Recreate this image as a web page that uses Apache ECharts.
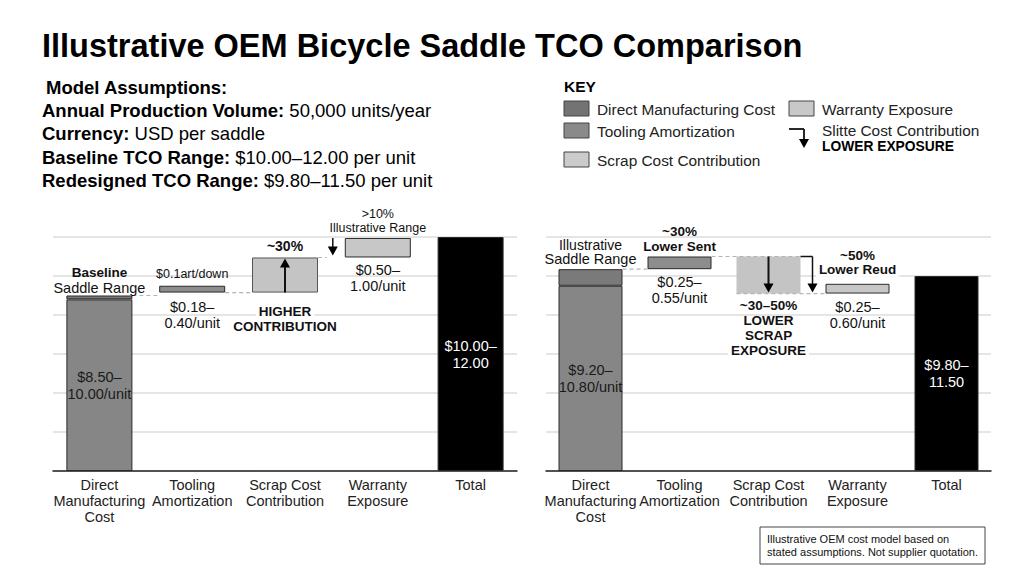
<!DOCTYPE html>
<html><head><meta charset="utf-8">
<script src="https://cdn.jsdelivr.net/npm/echarts@6/dist/echarts.min.js"></script>
<style>html,body{margin:0;padding:0;background:#fff}#c{width:1024px;height:572px}</style>
</head><body><div id="c"></div><script>
// ---- data ----
const categories = ['Direct\nManufacturing\nCost', 'Tooling\nAmortization', 'Scrap Cost\nContribution', 'Warranty\nExposure', 'Total'];
const baselineLow = [0, 9.15, 9.15, 10.95, 0];
const baselineHigh = [9.0, 9.5, 10.95, 11.95, 12.0];
const baselineDirectSplit = 8.8;
const redesignLow = [0, 10.35, 9.1, 9.1, 0];
const redesignHigh = [10.35, 11.0, 11.0, 9.6, 10.0];
const redesignDirectSplit = 9.5;
const yMin = 0, yMax = 12, yStep = 2;
const baselineInsideLabels = ['$8.50–\n10.00/unit', '', '', '', '$10.00–\n12.00'];
const redesignInsideLabels = ['$9.20–\n10.80/unit', '', '', '', '$9.80–\n11.50'];
const titleText = 'Illustrative OEM Bicycle Saddle TCO Comparison';
const assumptions = [
  ['Annual Production Volume:', ' 50,000 units/year'],
  ['Currency:', ' USD per saddle'],
  ['Baseline TCO Range:', ' $10.00–12.00 per unit'],
  ['Redesigned TCO Range:', ' $9.80–11.50 per unit']
];
const keyItems = ['Direct Manufacturing Cost', 'Tooling Amortization', 'Scrap Cost Contribution', 'Warranty Exposure'];
const footnote = ['Illustrative OEM cost model based on', 'stated assumptions. Not supplier quotation.'];

// ---- styling ----
const FONT = '"Liberation Sans", Arial, Helvetica, sans-serif';
const fills = ['#868686', '#8d8d8d', '#c4c4c4', '#c7c7c7', '#000000'];
const capFill = '#7a7a7a';
const keyFills = ['#737373', '#8a8a8a', '#cbcbcb', '#c8c8c8'];
const BW = [66, 64];

const chart = echarts.init(document.getElementById('c'), null, {renderer: 'svg'});

function makeSeries(g, low, high, split, labels) {
  const common = {type: 'bar', xAxisIndex: g, yAxisIndex: g, stack: 's' + g, barWidth: BW[g]};
  const base = Object.assign({}, common, {silent: true, itemStyle: {color: 'transparent', borderWidth: 0}, data: low});
  const lower = Object.assign({}, common, {
    data: low.map((l, i) => ({
      value: i === 0 ? split : +(high[i] - l).toFixed(2),
      itemStyle: {
        color: fills[i],
        borderColor: (g === 1 && i === 2) ? 'transparent' : (i === 2 ? '#555' : '#2a2a2a'),
        borderWidth: (g === 1 && i === 2) ? 0 : 1
      },
      label: {
        show: !!labels[i], formatter: labels[i], position: 'inside',
        color: i === 4 ? '#ffffff' : '#1a1a1a', fontSize: 14.5, lineHeight: 17, fontFamily: FONT
      }
    }))
  });
  const upper = Object.assign({}, common, {
    data: low.map((l, i) => i === 0
      ? {value: +(high[0] - split).toFixed(2), itemStyle: {color: capFill, borderColor: '#2a2a2a', borderWidth: 1}}
      : '-')
  });
  return [base, lower, upper];
}

function xAxis(g) {
  return {
    type: 'category', gridIndex: g, data: categories,
    axisLine: {lineStyle: {color: '#222', width: 1.5}},
    axisTick: {show: false},
    axisLabel: {interval: 0, fontSize: 14.5, color: '#222', lineHeight: 16, margin: 6, fontFamily: FONT}
  };
}
function yAxis(g) {
  return {
    type: 'value', gridIndex: g, min: yMin, max: yMax, interval: yStep,
    axisLabel: {show: false}, axisLine: {show: false}, axisTick: {show: false},
    splitLine: {lineStyle: {color: '#dcdcdc', width: 1.5}}
  };
}

chart.setOption({
  animation: false,
  backgroundColor: '#ffffff',
  grid: [
    {left: 53, right: 507, top: 237, bottom: 101},
    {left: 546, right: 33, top: 237, bottom: 101}
  ],
  xAxis: [xAxis(0), xAxis(1)],
  yAxis: [yAxis(0), yAxis(1)],
  series: [].concat(
    makeSeries(0, baselineLow, baselineHigh, baselineDirectSplit, baselineInsideLabels),
    makeSeries(1, redesignLow, redesignHigh, redesignDirectSplit, redesignInsideLabels)
  )
});

// ---- annotations positioned through the chart's own scales ----
const els = [];
function px(g, i, v) { return chart.convertToPixel({gridIndex: g}, [i, v]); }
function txt(x, y, text, opt) {
  opt = opt || {};
  const st = {text: text, x: 0, y: 0, font: opt.font || ('14px ' + FONT), fill: opt.fill || '#111',
    align: opt.align || 'center', verticalAlign: 'middle'};
  if (opt.rich) st.rich = opt.rich;
  if (opt.bg) { st.backgroundColor = opt.bg; st.padding = opt.pad || [0, 3]; }
  els.push({type: 'text', x: x, y: y, z: 100, style: st});
}
function line(x1, y1, x2, y2, opt) {
  opt = opt || {};
  els.push({type: 'line', z: 99, shape: {x1: x1, y1: y1, x2: x2, y2: y2},
    style: {stroke: opt.stroke || '#111', lineWidth: opt.w || 1.5, lineDash: opt.dash || null}});
}
function headDown(x, y) { els.push({type: 'polygon', z: 100, shape: {points: [[x - 5, y - 9], [x + 5, y - 9], [x, y]]}, style: {fill: '#000'}}); }
function headUp(x, y) { els.push({type: 'polygon', z: 100, shape: {points: [[x - 5, y + 9], [x + 5, y + 9], [x, y]]}, style: {fill: '#000'}}); }
const DASH = [4, 3];
const dashColor = '#b5b5b5';

// Left chart
(function () {
  const g = 0, hw = BW[g] / 2;
  const d = px(g, 0, baselineHigh[0]);
  const tT = px(g, 1, baselineHigh[1]), tB = px(g, 1, baselineLow[1]);
  const sT = px(g, 2, baselineHigh[2]), sB = px(g, 2, baselineLow[2]);
  const wT = px(g, 3, baselineHigh[3]), wB = px(g, 3, baselineLow[3]);
  const top = px(g, 4, yMax);
  line(d[0] + hw, d[1], tT[0] - hw, d[1], {stroke: dashColor, dash: DASH, w: 1.2});
  line(tB[0] + hw, tB[1], sB[0] - hw, sB[1], {stroke: dashColor, dash: DASH, w: 1.2});
  line(sT[0] + hw, sT[1], wT[0] - hw - 18, sT[1], {stroke: dashColor, dash: DASH, w: 1.2});
  txt(d[0], d[1] - 23, 'Baseline', {font: 'bold 13.5px ' + FONT});
  txt(d[0], d[1] - 8, 'Saddle Range', {font: '14.5px ' + FONT});
  txt(tT[0], tT[1] - 12, '$0.1art/down', {font: '12.5px ' + FONT});
  txt(tB[0], tB[1] + 14, '$0.18–', {font: '14.5px ' + FONT, bg: '#fff'});
  txt(tB[0], tB[1] + 30, '0.40/unit', {font: '14.5px ' + FONT});
  txt(sT[0], sT[1] - 11, '~30%', {font: 'bold 14px ' + FONT});
  line(sB[0], sB[1], sB[0], sT[1] + 6, {w: 2});
  headUp(sB[0], sT[1] + 1);
  txt(sB[0], sB[1] + 19, 'HIGHER', {font: 'bold 13.5px ' + FONT, bg: '#fff'});
  txt(sB[0], sB[1] + 34, 'CONTRIBUTION', {font: 'bold 13.5px ' + FONT});
  txt(wT[0], wT[1] - 24, '>10%', {font: '12.5px ' + FONT});
  txt(wT[0], wT[1] - 10, 'Illustrative Range', {font: '12.5px ' + FONT});
  txt(wB[0], wB[1] + 13, '$0.50–', {font: '14.5px ' + FONT});
  txt(wB[0], wB[1] + 29, '1.00/unit', {font: '14.5px ' + FONT});
  const ax = wT[0] - hw - 12;
  line(ax, top[1] + 1, ax, sT[1] - 7, {w: 1.5});
  headDown(ax, sT[1] - 2);
})();

// Right chart
(function () {
  const g = 1, hw = BW[g] / 2;
  const d = px(g, 0, redesignHigh[0]);
  const tT = px(g, 1, redesignHigh[1]), tB = px(g, 1, redesignLow[1]);
  const sT = px(g, 2, redesignHigh[2]), sB = px(g, 2, redesignLow[2]);
  const wT = px(g, 3, redesignHigh[3]), wB = px(g, 3, redesignLow[3]);
  line(d[0] + hw, d[1], tT[0] - hw, d[1], {stroke: dashColor, dash: DASH, w: 1.2});
  line(tT[0] + hw, tT[1], sT[0] + hw, sT[1], {stroke: dashColor, dash: DASH, w: 1.2});
  line(sB[0] - hw, sB[1], wB[0] - hw, sB[1], {stroke: dashColor, dash: DASH, w: 1.2});
  txt(d[0], d[1] - 24, 'Illustrative', {font: '14px ' + FONT});
  txt(d[0], d[1] - 10, 'Saddle Range', {font: '14.5px ' + FONT});
  txt(tT[0], tT[1] - 25, '~30%', {font: 'bold 13.5px ' + FONT});
  txt(tT[0], tT[1] - 10, 'Lower Sent', {font: 'bold 13.5px ' + FONT});
  txt(tB[0], tB[1] + 13, '$0.25–', {font: '14.5px ' + FONT});
  txt(tB[0], tB[1] + 29, '0.55/unit', {font: '14.5px ' + FONT});
  line(sT[0], sT[1], sT[0], sB[1] - 7, {w: 2});
  headDown(sT[0], sB[1] - 1);
  const bx = sT[0] + hw + 12;
  line(sT[0] + hw, sT[1], bx, sT[1], {w: 1.5});
  line(bx, sT[1], bx, sB[1] - 7, {w: 1.5});
  headDown(bx, sB[1] - 1);
  txt(sB[0], sB[1] + 12, '~30–50%', {font: 'bold 13.5px ' + FONT});
  txt(sB[0], sB[1] + 27, 'LOWER', {font: 'bold 13.5px ' + FONT});
  txt(sB[0], sB[1] + 42, 'SCRAP', {font: 'bold 13.5px ' + FONT});
  txt(sB[0], sB[1] + 57, 'EXPOSURE', {font: 'bold 13.5px ' + FONT, bg: '#fff'});
  txt(wT[0], wT[1] - 28, '~50%', {font: 'bold 13.5px ' + FONT});
  txt(wT[0], wT[1] - 14, 'Lower Reud', {font: 'bold 13.5px ' + FONT, bg: '#fff'});
  txt(wB[0], wB[1] + 13, '$0.25–', {font: '14.5px ' + FONT, bg: '#fff'});
  txt(wB[0], wB[1] + 29, '0.60/unit', {font: '14.5px ' + FONT});
})();

// Header
txt(42, 46, titleText, {font: 'bold 32.5px ' + FONT, align: 'left', fill: '#000'});
txt(46, 87, 'Model Assumptions:', {font: 'bold 18.5px ' + FONT, align: 'left', fill: '#000'});
const rich = {b: {font: 'bold 18.5px ' + FONT, fill: '#000'}, n: {font: '18.5px ' + FONT, fill: '#000'}};
assumptions.forEach((a, k) => {
  txt(42, 110 + k * 23.5, '{b|' + a[0] + '}{n|' + a[1] + '}', {align: 'left', rich: rich, font: '18.5px ' + FONT});
});

// Key
txt(564, 86, 'KEY', {font: 'bold 15.5px ' + FONT, align: 'left', fill: '#000'});
const keyPos = [[564, 101], [564, 123], [564, 152], [789, 101]];
keyItems.forEach((name, k) => {
  const p = keyPos[k];
  els.push({type: 'rect', z: 100, shape: {x: p[0], y: p[1], width: 25, height: 15}, style: {fill: keyFills[k], stroke: '#444', lineWidth: 1}});
  txt(p[0] + 33, p[1] + 8, name, {font: '15.4px ' + FONT, align: 'left', fill: '#222'});
});
line(789, 129, 804, 129, {w: 1.8});
line(804, 129, 804, 141, {w: 1.8});
headDown(804, 148);
txt(822, 130, 'Slitte Cost Contribution', {font: '15.4px ' + FONT, align: 'left', fill: '#222'});
txt(822, 146, 'LOWER EXPOSURE', {font: 'bold 13.8px ' + FONT, align: 'left', fill: '#000'});

// Footnote
els.push({type: 'rect', z: 100, shape: {x: 760, y: 527, width: 225, height: 37}, style: {fill: '#fff', stroke: '#444', lineWidth: 1}});
txt(767, 539, footnote[0], {font: '11px ' + FONT, align: 'left'});
txt(767, 552, footnote[1], {font: '11px ' + FONT, align: 'left'});

chart.setOption({graphic: {elements: els}});
</script></body></html>
